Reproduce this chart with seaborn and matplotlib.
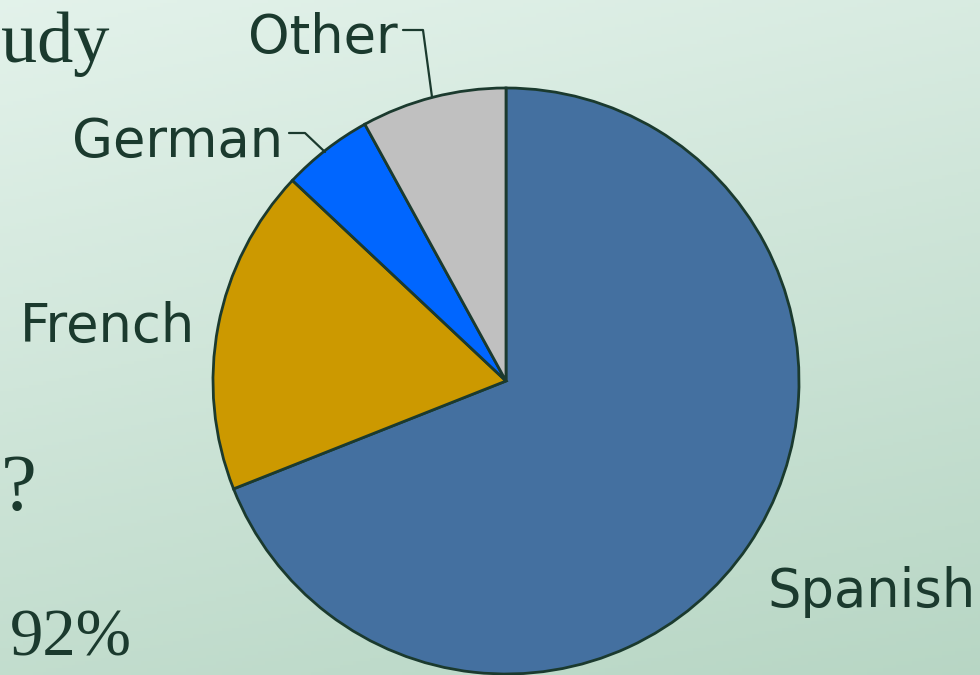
import numpy as np
import matplotlib
matplotlib.use("Agg")
import matplotlib.pyplot as plt
import seaborn as sns

# slice data (clockwise from 12 o'clock)
languages = ["Spanish", "French", "German", "Other"]
shares = [69, 18, 5, 8]
slice_colors = ["#4470a0", "#cc9900", "#0066ff", "#c0c0c0"]

# slide text fragments left of the chart
side_text = ["udy", "?", "92%"]

ink = "#1b3a2e"

sns.set_theme(style="white")
plt.rcParams['font.family'] = ['DejaVu Sans']

W, H = 980, 675
fig = plt.figure(figsize=(9.8, 6.75), dpi=100)
ax = fig.add_axes([0, 0, 1, 1])

# background gradient (light mint, darker toward bottom)
gy, gx = np.mgrid[0:1:200j, 0:1:300j]
t = 0.75 * gy + 0.25 * gx
top = np.array([0.89, 0.95, 0.92])
bot = np.array([0.72, 0.84, 0.77])
bg = top[None, None, :] * (1 - t[..., None]) + bot[None, None, :] * t[..., None]
ax.imshow(bg, extent=[0, W, 0, H], origin='upper', aspect='auto', zorder=0)

cx, cy, r = 506, H - 381, 293
wedges, _ = ax.pie(shares, colors=slice_colors, startangle=90, counterclock=False,
                   center=(cx, cy), radius=r, frame=True,
                   wedgeprops=dict(edgecolor=ink, linewidth=2.0))
for w in wedges:
    w.set_zorder(2)
ax.set_xlim(0, W)
ax.set_ylim(0, H)
ax.set_aspect('equal')
ax.axis('off')

lab_kw = dict(fontsize=38, color=ink, va='baseline', zorder=3)
ax.text(248, H - 53, languages[3], ha='left', **lab_kw)
ax.text(72, H - 157, languages[2], ha='left', **lab_kw)
ax.text(20, H - 342, languages[1], ha='left', **lab_kw)
ax.text(767, H - 607, languages[0], ha='left', **lab_kw)

# leader lines
ax.plot([403, 423, 432], [H - 30, H - 30, H - 97], color=ink, lw=1.6, zorder=3)
ax.plot([289, 305, 325], [H - 133, H - 133, H - 152], color=ink, lw=1.6, zorder=3)

ser_kw = dict(color=ink, va='baseline', ha='left',
              family=['Liberation Serif', 'DejaVu Serif'], zorder=3)
ax.text(1, H - 62, side_text[0], fontsize=52, **ser_kw)
ax.text(1, H - 510, side_text[1], fontsize=58, **ser_kw)
ax.text(10, H - 656, side_text[2], fontsize=48, **ser_kw)

fig.savefig("out.png", dpi=100)
